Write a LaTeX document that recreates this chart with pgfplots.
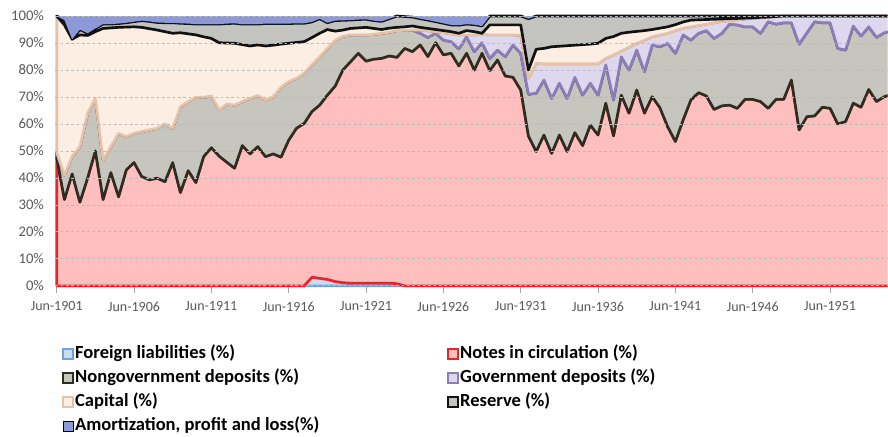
\documentclass[border=0pt]{standalone}
\usepackage{fontspec}
\setmainfont{Carlito}
\usepackage{pgfplots}
\pgfplotsset{compat=1.18}
\usepackage{pgfplotstable}
\usepgfplotslibrary{fillbetween}

\definecolor{flFill}{HTML}{C9DDF0}
\definecolor{flLine}{HTML}{6FA3D8}
\definecolor{ncFill}{HTML}{FFBFBF}
\definecolor{ncLine}{HTML}{E8262A}
\definecolor{ndFill}{HTML}{C6C6BE}
\definecolor{ndLine}{HTML}{2F2C20}
\definecolor{gdFill}{HTML}{DDD8EE}
\definecolor{gdLine}{HTML}{8B7DB8}
\definecolor{caFill}{HTML}{FDEEE3}
\definecolor{caLine}{HTML}{E6C2A6}
\definecolor{reFill}{HTML}{C3C3C0}
\definecolor{reLine}{HTML}{111111}
\definecolor{amFill}{HTML}{8E9AD8}
\definecolor{tickgray}{HTML}{595959}

% cumulative upper boundaries (%), half-yearly from Jun-1901
% l1 foreign, l2 +notes, l3 +nongov deposits, l4 +gov deposits, l5 +capital, l6 +reserve
\pgfplotstableread{
x      l1  l2   l3   l4   l5   l6
1901.5 0   47.5 49.5 49.5 100  100
1902.0 0   32   41   41   96.7 98.5
1902.5 0   41.5 48   48   91.4 91.4
1903.0 0   31   51.6 51.6 93   95
1903.5 0   40   64   64   92.8 93.6
1904.0 0   50   69.5 69.5 94.2 95.4
1904.5 0   32   46.7 46.7 95.4 97
1905.0 0   42   51.6 51.6 95.6 97
1905.5 0   33   56.5 56.5 95.8 97.2
1906.0 0   43   55.3 55.3 95.9 97.5
1906.5 0   45.7 56.5 56.5 96   97.9
1907.0 0   40.5 57.2 57.2 95.8 98.3
1907.5 0   39.3 57.8 57.8 95.3 98
1908.0 0   39.9 58.4 58.4 94.8 97.6
1908.5 0   38.6 60   60   94.2 97.5
1909.0 0   45.7 58.4 58.4 93.6 97.5
1909.5 0   34.6 66.4 66.4 93.8 97.3
1910.0 0   42.7 68.3 68.3 93.4 97.2
1910.5 0   38.3 69.9 69.9 93   97
1911.0 0   47.9 69.9 69.9 92.3 97
1911.5 0   51.2 70.4 70.4 91.7 97
1912.0 0   48.1 65.2 65.2 90.1 97
1912.5 0   45.8 67.4 67.4 90   97.2
1913.0 0   43.6 67   67   89.9 97.3
1913.5 0   52   68.3 68.3 89.4 97
1914.0 0   48.9 69.5 69.5 88.9 97
1914.5 0   51.6 70.5 70.5 89.3 97
1915.0 0   47.9 68.9 68.9 88.9 97.2
1915.5 0   48.9 70.1 70.1 89.2 97.2
1916.0 0   47.7 73.6 73.6 89.6 97.2
1916.5 0   54   75.7 75.7 89.9 97.2
1917.0 0   58.4 76.9 76.9 90.2 97.3
1917.5 0   60.2 78.8 78.8 90.5 97.3
1918.0 3.2 64.6 81.9 81.9 92   97.8
1918.5 2.8 67   84.9 84.9 93.6 99
1919.0 2.4 70.7 88   88   95   97.5
1919.5 1.6 74   91   91   94.4 98.3
1920.0 1.2 80   92.5 92.5 94.8 98.4
1920.5 1   83.1 93   93   95.4 98.5
1921.0 1   86.2 93   93   95.6 98.7
1921.5 1   83.3 93   93   95.8 98.8
1922.0 1   84   93.2 93.2 95.4 98.3
1922.5 1   84.3 93.6 93.6 95   98
1923.0 1   85.2 94   94   95.5 99
1923.5 0.8 84.7 94.6 94.6 95.8 100
1924.0 0   88   94.7 94.7 96   99.8
1924.5 0   86.8 94.8 94.8 96.3 99.6
1925.0 0   89.3 93.6 94.8 95.8 99
1925.5 0   85   92.1 94.5 95.4 98.5
1926.0 0   90.1 93.6 94.2 95   97.9
1926.5 0   85.6 91.1 93.8 94.6 97.3
1927.0 0   86.2 90.5 93.4 94.2 96.7
1927.5 0   81.5 87.8 93   93.6 96.6
1928.0 0   86.2 92.3 93   94.6 97
1928.5 0   80   86.8 93   94.2 96.8
1929.0 0   86.2 90.1 93.2 93.6 96.3
1929.5 0   79.8 84.3 93   96.7 100
1930.0 0   83.7 87.4 93   96.7 100
1930.5 0   77.8 84.9 93   96.7 100
1931.0 0   77.3 89.3 93   96.7 100
1931.5 0   72.6 86.2 92.8 96.7 100
1932.0 0   55.5 71   77   80   99
1932.5 0   49.8 71.4 82.5 87.7 100
1933.0 0   55.9 76.3 82.3 88   100
1933.5 0   49.1 69.5 82.3 88.6 100
1934.0 0   55.9 75.1 82.3 88.8 100
1934.5 0   49.8 69.5 82.3 89   100
1935.0 0   56.8 77.3 82.3 89.2 100
1935.5 0   52   70.7 82.3 89.4 100
1936.0 0   59.6 75.1 82.3 89.6 100
1936.5 0   55.9 70.7 82.3 89.9 100
1937.0 0   67.7 81.9 84.3 91.7 100
1937.5 0   55.6 68.9 85.6 92.4 100
1938.0 0   70.7 84.9 87   93.6 100
1938.5 0   64   80   88.5 94   100
1939.0 0   72.6 87.4 89.9 94.3 100
1939.5 0   64   79.4 91   94.6 100
1940.0 0   70.1 89.3 92.3 95   100
1940.5 0   66   88.6 93   95.5 100
1941.0 0   59   89.9 93.6 96   100
1941.5 0   53.5 86.2 94.6 96.8 100
1942.0 0   61.5 93   95.5 97.8 100
1942.5 0   68.9 91.1 96   98.5 100
1943.0 0   71.6 93.6 96.5 98.6 100
1943.5 0   70.4 94.6 97   98.7 100
1944.0 0   65.4 91.7 97.5 98.8 100
1944.5 0   66.7 93.6 98   98.9 100
1945.0 0   67   97   98.3 99   100
1945.5 0   65.8 96.7 98.6 99.1 100
1946.0 0   69.1 96   98.9 99.2 100
1946.5 0   69.1 96   99.2 99.3 100
1947.0 0   68.3 93.6 99.4 99.5 100
1947.5 0   65.8 97.9 99.6 99.6 100
1948.0 0   69.1 97   99.8 99.8 100
1948.5 0   69.1 97.5 100  100  100
1949.0 0   76.3 97.5 100  100  100
1949.5 0   57.8 89.6 100  100  100
1950.0 0   62.7 93.8 100  100  100
1950.5 0   63   97.9 100  100  100
1951.0 0   66.2 97.5 100  100  100
1951.5 0   65.8 97.5 100  100  100
1952.0 0   60   88   100  100  100
1952.5 0   60.9 87.4 100  100  100
1953.0 0   67.7 96.3 100  100  100
1953.5 0   66.2 92.6 100  100  100
1954.0 0   72.8 96   100  100  100
1954.5 0   68.3 92.1 100  100  100
1955.0 0   70.1 93.8 100  100  100
1955.5 0   71   94.5 100  100  100
}\bounds

\begin{document}
\begin{tikzpicture}
\path (0,0) rectangle (666pt,327.75pt);
\begin{axis}[
    at={(41.5pt,112.25pt)}, anchor=south west,
    width=624.5pt, height=204.5pt, scale only axis,
    xmin=1901.41, xmax=1955.22, ymin=-0.5, ymax=100.5,
    axis on top,
    axis line style={draw=none},
    xtick={1901.5,1906.5,1911.5,1916.5,1921.5,1926.5,1931.5,1936.5,1941.5,1946.5,1951.5},
    xticklabels={Jun-1901,Jun-1906,Jun-1911,Jun-1916,Jun-1921,Jun-1926,Jun-1931,Jun-1936,Jun-1941,Jun-1946,Jun-1951},
    ytick={0,10,...,100},
    yticklabel={\pgfmathprintnumber{\tick}\%},
    /pgf/number format/assume math mode=true,
    xtick pos=left, ytick pos=left,
    tick align=outside, major tick length=4pt,
    x tick style={gray!70, line width=0.6pt},
    y tick style={draw=none},
    xticklabel style={font=\fontsize{10.5}{12}\selectfont, text=tickgray, yshift=-3.5pt},
    yticklabel style={font=\fontsize{11}{12}\selectfont, text=tickgray, xshift=-1pt},
    ymajorgrids,
    grid style={dash pattern=on 2pt off 2pt, gray!55, line width=0.6pt},
    legend columns=2,
    legend cell align=left,
    legend image code/.code={\draw[#1] (0pt,-3.75pt) rectangle (7.5pt,3.75pt);},
    legend style={at={(0.008,-0.207)}, anchor=north west, draw=none, fill=none,
        inner sep=0pt, row sep=3pt,
        font=\fontsize{13.9}{16}\selectfont\bfseries,
        nodes={inner sep=1pt, text height=10pt, text depth=3pt},
        /tikz/every even column/.append style={column sep=95pt}},
  ]
  \addplot[draw=none, forget plot, name path=L1] table[x=x, y=l1] {\bounds};
  \addplot[draw=none, forget plot, name path=L2] table[x=x, y=l2] {\bounds};
  \addplot[draw=none, forget plot, name path=L3] table[x=x, y=l3] {\bounds};
  \addplot[draw=none, forget plot, name path=L4] table[x=x, y=l4] {\bounds};
  \addplot[draw=none, forget plot, name path=L5] table[x=x, y=l5] {\bounds};
  \addplot[draw=none, forget plot, name path=L6] table[x=x, y=l6] {\bounds};
  \path[name path=BOT] (axis cs:1901.5,0) -- (axis cs:1955.5,0);
  \path[name path=TOP] (axis cs:1901.5,100) -- (axis cs:1955.5,100);

  \addplot[fill=flFill, draw=flLine, line width=2pt, line join=round, forget plot] fill between[of=L1 and BOT];
  \addplot[fill=ncFill, draw=ncLine, line width=2pt, line join=round, forget plot] fill between[of=L2 and L1];
  \addplot[fill=ndFill, draw=ndLine, line width=2pt, line join=round, forget plot] fill between[of=L3 and L2];
  \addplot[fill=gdFill, draw=gdLine, line width=2pt, line join=round, forget plot] fill between[of=L4 and L3];
  \addplot[fill=caFill, draw=caLine, line width=2pt, line join=round, forget plot] fill between[of=L5 and L4];
  \addplot[fill=reFill, draw=reLine, line width=2pt, line join=round, forget plot] fill between[of=L6 and L5];
  \addplot[fill=amFill, draw=none, forget plot] fill between[of=TOP and L6];

  \addlegendimage{fill=flFill, draw=flLine, line width=1.2pt}
  \addlegendentry{Foreign liabilities (\%)}
  \addlegendimage{fill=ncFill, draw=ncLine, line width=1.2pt}
  \addlegendentry{Notes in circulation (\%)}
  \addlegendimage{fill=ndFill, draw=ndLine, line width=1.2pt}
  \addlegendentry{Nongovernment deposits (\%)}
  \addlegendimage{fill=gdFill, draw=gdLine, line width=1.2pt}
  \addlegendentry{Government deposits (\%)}
  \addlegendimage{fill=caFill, draw=caLine, line width=1.2pt}
  \addlegendentry{Capital (\%)}
  \addlegendimage{fill=reFill, draw=reLine, line width=1.2pt}
  \addlegendentry{Reserve (\%)}
  \addlegendimage{fill=amFill, draw=none}
  \addlegendentry{Amortization, profit and loss(\%)}
\end{axis}
\end{tikzpicture}
\end{document}
